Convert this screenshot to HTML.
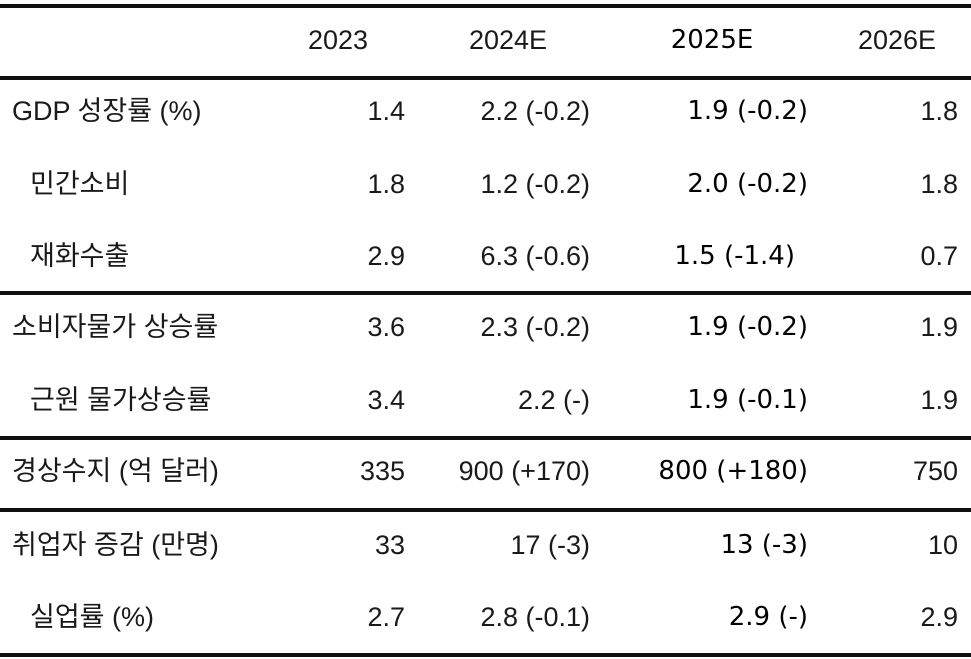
<!DOCTYPE html>
<html><head><meta charset="utf-8"><style>
body{margin:0;width:971px;height:659px;background:#fff;position:relative;overflow:hidden;font-family:"Liberation Sans","Noto Sans CJK KR",sans-serif;color:#1a1a1a}
.l{position:absolute;left:0;width:971px;height:3.5px;background:#111}
.t{position:absolute;font-size:27px;line-height:30px;white-space:nowrap}
.r{text-align:right}
.b{font-family:"DejaVu Sans","Noto Sans CJK KR",sans-serif;font-size:26px;color:#000}
</style></head><body>
<div class="l" style="top:4px"></div>
<div class="l" style="top:76px"></div>
<div class="l" style="top:291px"></div>
<div class="l" style="top:436px"></div>
<div class="l" style="top:508px"></div>
<div class="l" style="top:653px"></div>
<div id="tbl"></div>
<script>
const labels=["GDP 성장률 (%)","민간소비","재화수출","소비자물가 상승률","근원 물가상승률","경상수지 (억 달러)","취업자 증감 (만명)","실업률 (%)"];
const indent=[0,1,1,0,1,0,0,1];
const c2023=["1.4","1.8","2.9","3.6","3.4","335","33","2.7"];
const c2024=["2.2 (-0.2)","1.2 (-0.2)","6.3 (-0.6)","2.3 (-0.2)","2.2 (-)","900 (+170)","17 (-3)","2.8 (-0.1)"];
const c2025=["1.9 (-0.2)","2.0 (-0.2)","1.5 (-1.4)","1.9 (-0.2)","1.9 (-0.1)","800 (+180)","13 (-3)","2.9 (-)"];
const c2026=["1.8","1.8","0.7","1.9","1.9","750","10","2.9"];
const rowY=[111,184,256,327,400,471,545,617];
const tbl=document.getElementById('tbl');
function add(txt,css,cls,name){const d=document.createElement('div');d.className='t '+(cls||'');d.textContent=txt;d.style.cssText=css;


tbl.appendChild(d);}
const hdr=[["2023",338,""],["2024E",508,""],["2025E",712,"b"],["2026E",897,""]];
hdr.forEach(h=>add(h[0],`left:${h[1]-100}px;width:200px;text-align:center;top:25px`,h[2],'header-'+h[0].toLowerCase()));
labels.forEach((lab,i)=>{const y=rowY[i]-15;
add(lab,`left:${indent[i]?30:12}px;top:${y}px`,'','row-label');
add(c2023[i],`right:${971-405}px;top:${y}px`,'r','value-2023');
add(c2024[i],`right:${971-590}px;top:${y}px`,'r','value-2024e');
add(c2025[i],`right:${971-808}px;top:${y}px;${i==2?'right:'+(971-795)+'px':''}`,'r b','value-2025e');
add(c2026[i],`right:${971-958}px;top:${y}px`,'r','value-2026e');
});
</script>
</body></html>
